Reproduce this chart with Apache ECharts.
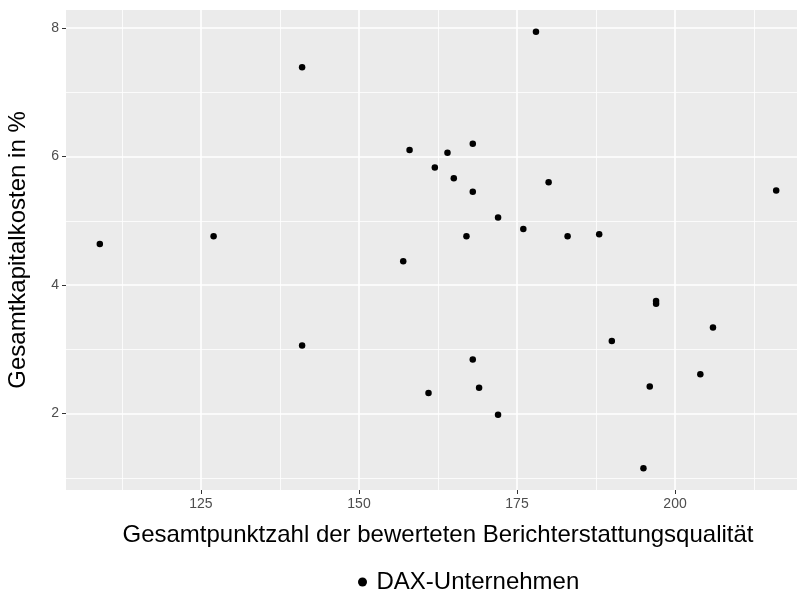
<!DOCTYPE html>
<html>
<head>
<meta charset="utf-8">
<script src="https://cdn.jsdelivr.net/npm/echarts@6/dist/echarts.min.js"></script>
<style>html,body{margin:0;padding:0;background:#fff}#c{width:797px;height:593px}</style>
</head>
<body>
<div id="c"></div>
<script>
const seriesName = 'DAX-Unternehmen';
const scores = [109,127,141,141,178,158,164,168,162,165,168,180,216,172,176,167,183,188,157,197,197,206,190,168,204,169,196,161,172,195];
const costs = [4.64,4.76,7.39,3.06,7.94,6.10,6.06,6.20,5.83,5.66,5.45,5.60,5.47,5.05,4.87,4.76,4.76,4.79,4.37,3.75,3.71,3.34,3.13,2.84,2.61,2.40,2.42,2.32,1.98,1.15];
const xMajor = [125,150,175,200];
const xMinor = [112.5,137.5,162.5,187.5,212.5];
const yMajor = [2,4,6,8];
const yMinor = [1,3,5,7];
const xTitle = 'Gesamtpunktzahl der bewerteten Berichterstattungsqualität';
const yTitle = 'Gesamtkapitalkosten in %';

const xMin = 103.65, xMax = 221.35, yMin = 0.81, yMax = 8.28;
const FONT = 'Liberation Sans, Arial, sans-serif';

const chart = echarts.init(document.getElementById('c'), null, {renderer:'canvas'});
chart.setOption({
  animation:false,
  backgroundColor:'#ffffff',
  grid:{left:66,top:10,right:-13,bottom:103,show:true,backgroundColor:'#EBEBEB',borderWidth:0,
        containLabel:false,outerBoundsMode:'none'},
  legend:{
    data:[seriesName], top:570, left:358, padding:0, icon:'circle', itemWidth:18, itemHeight:9, itemGap:0,
    textStyle:{fontFamily:FONT,fontSize:24,color:'#000'},
    itemStyle:{opacity:1}
  },
  xAxis:[
    {type:'value',min:xMin,max:xMax,
     name:xTitle,nameLocation:'middle',nameGap:33,
     nameTextStyle:{fontFamily:FONT,fontSize:24,color:'#000'},
     axisLine:{show:false},
     axisTick:{show:true,length:4,lineStyle:{color:'#333333',width:1},customValues:xMajor},
     axisLabel:{fontFamily:FONT,fontSize:14,color:'#4D4D4D',margin:7,customValues:xMajor},
     splitLine:{show:true,lineStyle:{color:'#ffffff',width:1.6}}
    },
    {type:'value',min:xMin,max:xMax,
     axisLine:{show:false},
     axisTick:{show:false,customValues:xMinor},
     axisLabel:{show:false,customValues:xMinor},
     splitLine:{show:true,lineStyle:{color:'#ffffff',width:0.8}}
    }
  ],
  yAxis:[
    {type:'value',min:yMin,max:yMax,
     name:yTitle,nameLocation:'middle',nameGap:36,nameRotate:90,
     nameTextStyle:{fontFamily:FONT,fontSize:24,color:'#000'},
     axisLine:{show:false},
     axisTick:{show:true,length:4,lineStyle:{color:'#333333',width:1},customValues:yMajor},
     axisLabel:{fontFamily:FONT,fontSize:14,color:'#4D4D4D',margin:7,customValues:yMajor},
     splitLine:{show:true,lineStyle:{color:'#ffffff',width:1.6}}
    },
    {type:'value',min:yMin,max:yMax,
     axisLine:{show:false},
     axisTick:{show:false,customValues:yMinor},
     axisLabel:{show:false,customValues:yMinor},
     splitLine:{show:true,lineStyle:{color:'#ffffff',width:0.8}}
    }
  ],
  series:[{
    name:seriesName,type:'scatter',xAxisIndex:0,yAxisIndex:0,
    symbol:'circle',symbolSize:6.5,
    itemStyle:{color:'#000000',opacity:1},
    data:scores.map((s,i)=>[s,costs[i]])
  }]
});
</script>
</body>
</html>
